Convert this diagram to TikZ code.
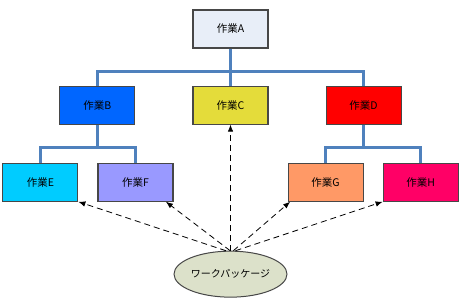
\documentclass[tikz,border=0pt]{standalone}
\usepackage{fontspec}
\newfontfamily\jpfont{Noto Sans CJK JP}
\usetikzlibrary{arrows.meta,positioning,calc,shapes.geometric}
\definecolor{rootLavender}{HTML}{E8EEF8}
\definecolor{taskBlue}{HTML}{0066FF}
\definecolor{taskYellow}{HTML}{E4DC3A}
\definecolor{taskRed}{HTML}{FF0000}
\definecolor{taskCyan}{HTML}{00CCFF}
\definecolor{taskViolet}{HTML}{9999FF}
\definecolor{taskOrange}{HTML}{FF9966}
\definecolor{taskPink}{HTML}{FF0066}
\definecolor{pkgSage}{HTML}{DCE1CA}
\definecolor{treeBlue}{HTML}{4F81BD}
\tikzset{
  task node/.style={rectangle,draw=black!72,line width=1.1pt,
    minimum width=75pt,minimum height=38pt,inner sep=2pt,
    font=\jpfont\fontsize{10.5}{12}\selectfont,text=black},
  package node/.style={ellipse,draw=black!72,line width=1pt,fill=pkgSage,
    minimum width=113pt,minimum height=46pt,inner sep=0pt,
    font=\jpfont\fontsize{10}{12}\selectfont,text=black},
  tree line/.style={draw=treeBlue,line width=3pt},
  work arrow/.style={-{Latex[length=7pt,width=5.5pt]},draw=black,
    line width=0.8pt,dash pattern=on 6pt off 4pt}
}
\begin{document}
\begin{tikzpicture}[x=1pt,y=1pt,node distance=37pt and 57pt]
    \useasboundingbox (0,0) rectangle (464,-305);
    % top level
    \node[task node,fill=rootLavender] (A) at (230.5,-29) {作業A};
    % second level
    \node[task node,fill=taskYellow,below=of A] (C) {作業C};
    \node[task node,fill=taskBlue,left=of C] (B) {作業B};
    \node[task node,fill=taskRed,right=of C] (D) {作業D};
    % third level
    \node[task node,fill=taskViolet,below right=38pt and 0pt of B.south]
      (F) {作業F};
    \node[task node,fill=taskCyan,left=19pt of F] (E) {作業E};
    \node[task node,fill=taskOrange,below left=38pt and 0pt of D.south]
      (G) {作業G};
    \node[task node,fill=taskPink,right=19pt of G] (H) {作業H};
    % work package
    \node[package node,below=126pt of C] (W) {ワークパッケージ};
    % tree connectors
    \coordinate (busA) at ($(A.south)!0.62!(C.north)$);
    \coordinate (busB) at ($(B.south)+(0,-23)$);
    \coordinate (busD) at ($(D.south)+(0,-23)$);
    \draw[tree line] (A.south) -- (C.north);
    \draw[tree line] (B.north) |- (busA) -| (D.north);
    \draw[tree line] (B.south) -- (busB);
    \draw[tree line] (E.north) |- (busB) -| (F.north);
    \draw[tree line] (D.south) -- (busD);
    \draw[tree line] (G.north) |- (busD) -| (H.north);
    % package arrows
    \coordinate (fTip) at ($(F.south)!0.8!(F.south east)$);
    \coordinate (gTip) at ($(G.south west)!0.07!(G.south)$);
    \draw[work arrow] (W.101) -- (E.south east);
    \draw[work arrow] (W.91) -- (fTip);
    \draw[work arrow] (W.north) -- (C.south);
    \draw[work arrow] (W.83) -- (gTip);
    \draw[work arrow] (W.78) -- (H.south west);
  \end{tikzpicture}
\end{document}
